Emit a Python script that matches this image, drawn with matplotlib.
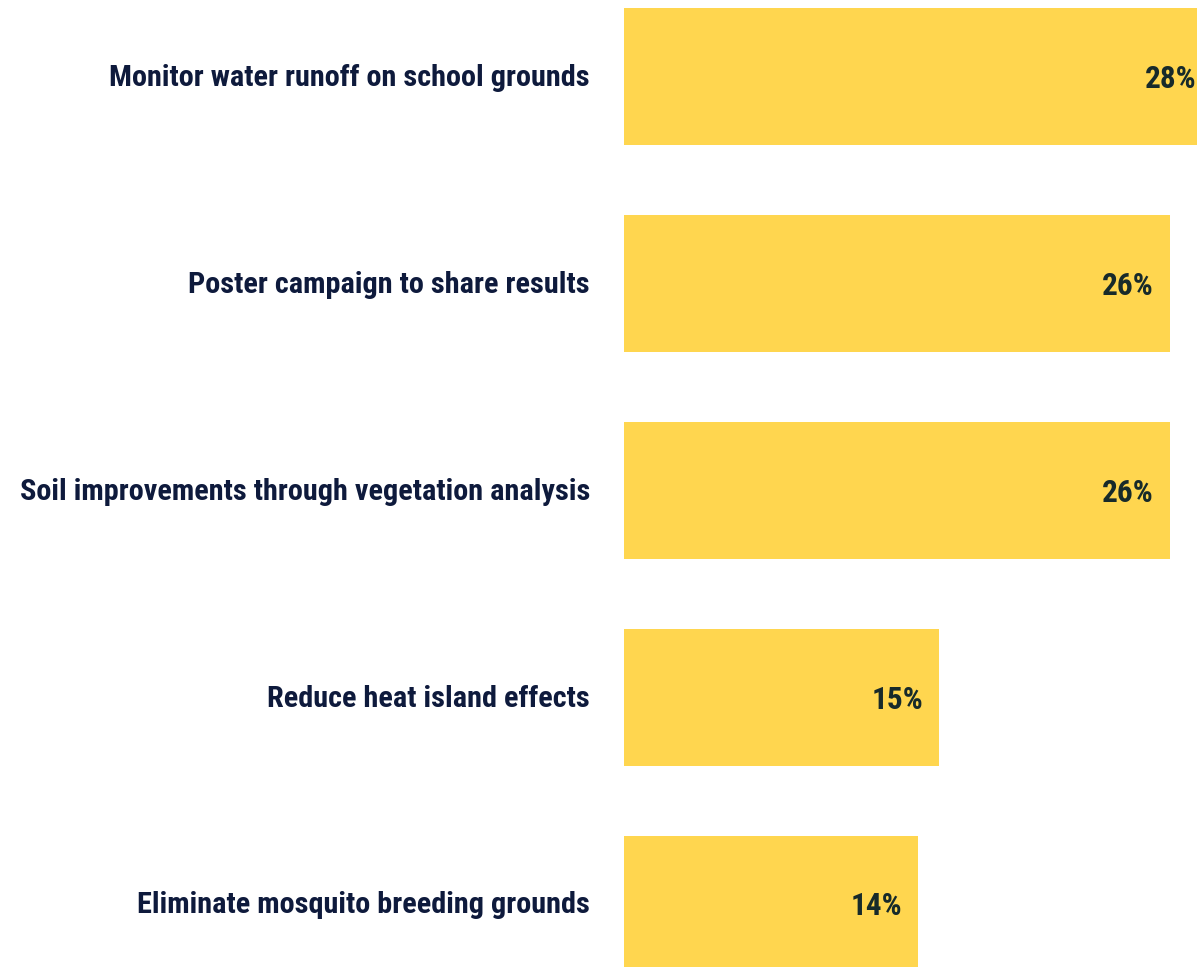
import matplotlib
matplotlib.use("Agg")
import matplotlib.pyplot as plt

categories = [
    "Monitor water runoff on school grounds",
    "Poster campaign to share results",
    "Soil improvements through vegetation analysis",
    "Reduce heat island effects",
    "Eliminate mosquito breeding grounds",
]
values = [28, 26, 26, 15, 14]
value_labels = ["28%", "26%", "26%", "15%", "14%"]

family = ["Roboto Condensed", "DejaVu Sans"]

BAR = "#FFD64F"
LABEL = "#0E1A3C"
VALUE = "#172A2A"

fig = plt.figure(figsize=(11.97, 9.67), dpi=100)
ax = fig.add_axes([624 / 1197, 0, 1 - 624 / 1197, 1])

ypos = list(range(len(categories)))
ax.barh(ypos, values, height=0.66, color=BAR)
ax.set_xlim(0, 573 / 21)
ax.set_ylim(4.302, -0.370)
ax.axis("off")

for y, cat, v, lab in zip(ypos, categories, values, value_labels):
    ax.annotate(cat, xy=(0, y), xytext=(-34, -1), textcoords="offset pixels",
                ha="right", va="center", fontsize=21.8, fontweight="bold",
                color=LABEL, family=family, annotation_clip=False)
    ax.annotate(lab, xy=(v, y), xytext=(-16, -2), textcoords="offset pixels",
                ha="right", va="center", fontsize=22.5, fontweight="bold",
                color=VALUE, family=family, annotation_clip=False)

fig.savefig("out.png", dpi=100)
